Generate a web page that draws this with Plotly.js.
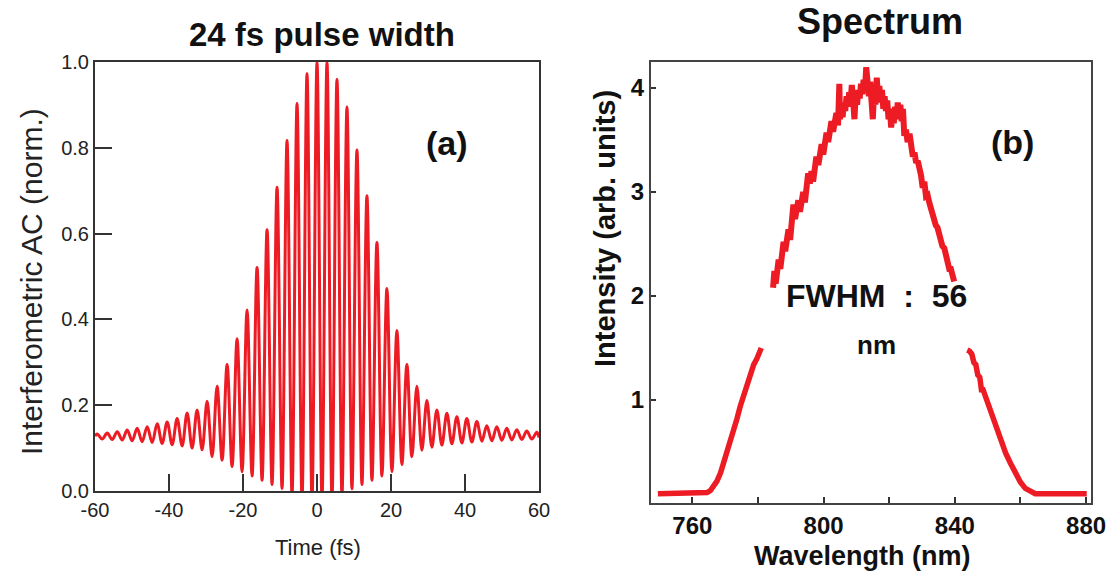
<!DOCTYPE html>
<html>
<head>
<meta charset="utf-8">
<script src="https://cdn.plot.ly/plotly-3.0.1.min.js"></script>
<style>html,body{margin:0;padding:0;background:#fff;}#chart{width:1116px;height:575px;}</style>
</head>
<body>
<div id="chart"></div>
<script>
// ---- Panel (a): interferometric autocorrelation ----
const acPeakTime = [-59.4,-56.7,-54,-51.3,-48.6,-45.9,-43.2,-40.5,-37.8,-35.1,-32.4,-29.7,-27,-24.3,-21.6,-18.9,-16.2,-13.5,-10.8,-8.1,-5.4,-2.7,0,2.7,5.4,8.1,10.8,13.5,16.2,18.9,21.6,24.3,27,29.7,32.4,35.1,37.8,40.5,43.2,45.9,48.6,51.3,54,56.7,59.4];
const acPeakValue = [0.133,0.135,0.138,0.142,0.146,0.150,0.157,0.161,0.169,0.182,0.189,0.209,0.244,0.295,0.355,0.422,0.521,0.609,0.708,0.817,0.903,0.973,1.0,1.0,0.960,0.895,0.795,0.688,0.579,0.472,0.374,0.295,0.244,0.211,0.189,0.181,0.173,0.169,0.162,0.152,0.150,0.146,0.143,0.140,0.137];
const acValleyTime = [-58.05,-55.35,-52.65,-49.95,-47.25,-44.55,-41.85,-39.15,-36.45,-33.75,-31.05,-28.35,-25.65,-22.95,-20.25,-17.55,-14.85,-12.15,-9.45,-6.75,-4.05,-1.35,1.35,4.05,6.75,9.45,12.15,14.85,17.55,20.25,22.95,25.65,28.35,31.05,33.75,36.45,39.15,41.85,44.55,47.25,49.95,52.65,55.35,58.05];
const acValleyValue = [0.121,0.120,0.119,0.117,0.115,0.113,0.111,0.108,0.105,0.100,0.096,0.080,0.072,0.057,0.045,0.035,0.025,0.015,0.006,-0.01,-0.02,-0.02,-0.02,-0.02,-0.01,0.005,0.015,0.025,0.035,0.045,0.062,0.080,0.095,0.102,0.107,0.110,0.112,0.114,0.116,0.117,0.118,0.119,0.120,0.121];
const acEdgeTime = [-60, 60];
const acEdgeValue = [0.128, 0.125];

// ---- Panel (b): spectrum, three visible segments ----
const specLeftWl  = [749.5,755,760,763.5,764.5,765.5,766.5,767.5,768.6,769.6,770.6,771.6,772.6,773.6,774.6,775.6,776.7,777.7,778.7,779.7,780.7,781.0];
const specLeftInt = [0.10,0.10,0.10,0.10,0.11,0.13,0.17,0.22,0.30,0.40,0.48,0.58,0.70,0.82,0.94,1.04,1.15,1.26,1.34,1.40,1.47,1.50];
const specTopWl  = [784.6,785.0,785.4,785.8,786.3,786.8,787.3,787.8,788.3,788.8,789.3,789.8,790.3,790.8,791.3,791.8,792.3,792.8,793.3,793.8,794.3,794.8,795.3,795.8,796.3,796.8,797.3,797.8,798.4,798.9,799.4,799.9,800.4,800.9,801.4,801.9,802.4,802.9,803.4,803.9,804.4,804.8,805.0,805.4,805.8,806.2,806.6,807.0,807.4,807.8,808.2,808.6,809.0,809.4,809.8,810.2,810.6,811.0,811.4,811.8,812.2,812.6,813.0,813.4,813.8,814.2,814.6,815.0,815.4,815.8,816.2,816.6,817.0,817.4,817.8,818.2,818.6,819.0,819.4,819.8,820.2,820.6,821.0,821.4,821.8,822.2,822.6,823.0,823.4,823.8,824.2,824.6,825.1,825.6,826.2,826.7,827.2,827.7,828.2,828.7,829.2,829.7,830.2,830.7,831.2,831.7,832.2,832.7,833.2,833.7,834.2,834.7,835.2,835.7,836.2,836.8,837.3,837.8,838.3,838.8,839.3,839.8];
const specTopInt = [2.08,2.24,2.12,2.28,2.35,2.26,2.44,2.52,2.43,2.60,2.64,2.54,2.72,2.88,2.74,2.84,2.92,2.81,2.98,3.00,2.90,3.10,3.18,3.08,3.20,3.10,3.28,3.34,3.26,3.42,3.46,3.36,3.52,3.57,3.48,3.64,3.68,3.58,3.72,3.76,3.64,4.04,3.70,3.82,3.72,3.86,3.78,3.92,3.82,3.96,3.86,4.03,3.88,3.70,3.94,3.84,3.98,3.90,4.04,3.94,4.08,3.98,4.20,4.04,3.92,4.06,3.88,3.70,3.96,3.84,4.10,3.92,4.02,3.86,3.98,3.80,3.92,3.78,3.88,3.70,3.80,3.62,3.78,3.66,3.82,3.70,3.86,3.74,3.84,3.68,3.80,3.54,3.60,3.48,3.56,3.40,3.34,3.38,3.28,3.30,3.24,3.16,3.04,3.10,2.96,2.97,2.90,2.84,2.76,2.74,2.68,2.66,2.58,2.56,2.48,2.46,2.38,2.36,2.26,2.26,2.18,2.14];
const specRightWl  = [843.8,844.5,845.2,845.8,846.4,847.0,847.6,848.1,848.6,849.4,850.2,850.9,851.9,852.9,854.2,855.5,857.0,858.5,860.0,861.5,863.0,864.5,870,875,880.2];
const specRightInt = [1.48,1.47,1.44,1.36,1.34,1.24,1.22,1.10,1.10,1.03,0.94,0.87,0.79,0.71,0.60,0.49,0.39,0.30,0.21,0.15,0.12,0.10,0.10,0.10,0.10];

// ---- Tick labels ----
const acTickVals = [-60,-40,-20,0,20,40,60];
const acTickText = ['-60','-40','-20','0','20','40','60'];
const acYTickVals = [0,0.2,0.4,0.6,0.8,1.0];
const acYTickText = ['0.0','0.2','0.4','0.6','0.8','1.0'];
const specTickVals = [760,780,800,820,840,860,880];
const specTickText = ['760','','800','','840','','880'];
const specYTickVals = [1,2,3,4];

// merge AC peaks, valleys and edges into one time-ordered series
const acPts = [];
acPeakTime.forEach((t,i)=>acPts.push([t, acPeakValue[i]]));
acValleyTime.forEach((t,i)=>acPts.push([t, acValleyValue[i]]));
acEdgeTime.forEach((t,i)=>acPts.push([t, acEdgeValue[i]]));
acPts.sort((a,b)=>a[0]-b[0]);

const RED = '#ed1c24';
const FONT = 'Liberation Sans, Arial, sans-serif';
const W = 1116, H = 575;
const px = x => x / W, py = y => 1 - y / H;

const traces = [
  {x: acPts.map(p=>p[0]), y: acPts.map(p=>p[1]), xaxis:'x', yaxis:'y', type:'scatter', mode:'lines',
   line:{color:RED, width:3, shape:'spline', smoothing:1}, hoverinfo:'skip'},
  {x: specLeftWl, y: specLeftInt, xaxis:'x2', yaxis:'y2', type:'scatter', mode:'lines', line:{color:RED, width:5.5}, hoverinfo:'skip'},
  {x: specTopWl, y: specTopInt, xaxis:'x2', yaxis:'y2', type:'scatter', mode:'lines', line:{color:RED, width:6}, hoverinfo:'skip'},
  {x: specRightWl, y: specRightInt, xaxis:'x2', yaxis:'y2', type:'scatter', mode:'lines', line:{color:RED, width:5.5}, hoverinfo:'skip'}
];

function ann(text, x, y, size, opts) {
  return Object.assign({text: text, x: px(x), y: py(y), xref:'paper', yref:'paper', xanchor:'center', yanchor:'middle',
    showarrow:false, font:{family:FONT, size:size, color:'#111'}}, opts||{});
}

const layout = {
  width: W, height: H, margin:{l:0,r:0,t:0,b:0}, paper_bgcolor:'#fff', plot_bgcolor:'#fff', showlegend:false,
  xaxis: {domain:[px(95), px(539)], range:[-60,60], anchor:'y', tickvals:acTickVals, ticktext:acTickText, ticks:'inside', ticklen:17, tickwidth:2, tickcolor:'#333',
    showline:true, linecolor:'#333', linewidth:2, mirror:true, showgrid:false, zeroline:false,
    tickfont:{family:FONT, size:20, color:'#222'}},
  yaxis: {domain:[1-491/H, 1-62/H], range:[0,1], anchor:'x', tickvals:acYTickVals, ticktext:acYTickText, ticks:'inside', ticklen:17, tickwidth:2, tickcolor:'#333',
    showline:true, linecolor:'#333', linewidth:2, mirror:true, showgrid:false, zeroline:false,
    tickfont:{family:FONT, size:20, color:'#222'}},
  xaxis2: {domain:[px(651), px(1091)], range:[747.4,881.5], anchor:'y2', tickvals:specTickVals, ticktext:specTickText, ticks:'inside', ticklen:6, tickwidth:2, tickcolor:'#333',
    showline:true, linecolor:'#444', linewidth:2, mirror:true, showgrid:false, zeroline:false,
    tickfont:{family:FONT, size:24, color:'#111', weight:'bold'}},
  yaxis2: {domain:[1-503/H, 1-62/H], range:[0.01,4.25], anchor:'x2', tickvals:specYTickVals, ticks:'inside', ticklen:5, tickwidth:2, tickcolor:'#333',
    showline:true, linecolor:'#444', linewidth:2, mirror:true, showgrid:false, zeroline:false,
    tickfont:{family:FONT, size:24, color:'#111', weight:'bold'}},
  annotations: [
    ann('24 fs pulse width', 322, 35, 33, {font:{family:FONT, size:33, color:'#111', weight:'bold'}}),
    ann('Spectrum', 880, 22, 36, {font:{family:FONT, size:36, color:'#111', weight:'bold'}}),
    ann('Interferometric AC (norm.)', 31, 282, 30, {textangle:-90, font:{family:FONT, size:30, color:'#222'}}),
    ann('Time (fs)', 318, 547, 22, {font:{family:FONT, size:22, color:'#222'}}),
    ann('(a)', 447, 143, 34, {font:{family:FONT, size:34, color:'#111', weight:'bold'}}),
    ann('Intensity (arb. units)', 605, 229, 29, {textangle:-90, font:{family:FONT, size:29, color:'#111', weight:'bold'}}),
    ann('Wavelength (nm)', 862, 556, 27, {font:{family:FONT, size:27, color:'#111', weight:'bold'}}),
    ann('(b)', 1012, 142, 34, {font:{family:FONT, size:34, color:'#111', weight:'bold'}}),
    ann('FWHM\u00a0\u00a0:\u00a0\u00a056', 876, 296, 32, {font:{family:FONT, size:32, color:'#111', weight:'bold'}}),
    ann('nm', 876, 345, 26, {font:{family:FONT, size:26, color:'#111', weight:'bold'}})
  ]
};

Plotly.newPlot('chart', traces, layout, {staticPlot:true, displayModeBar:false});
</script>
</body>
</html>
